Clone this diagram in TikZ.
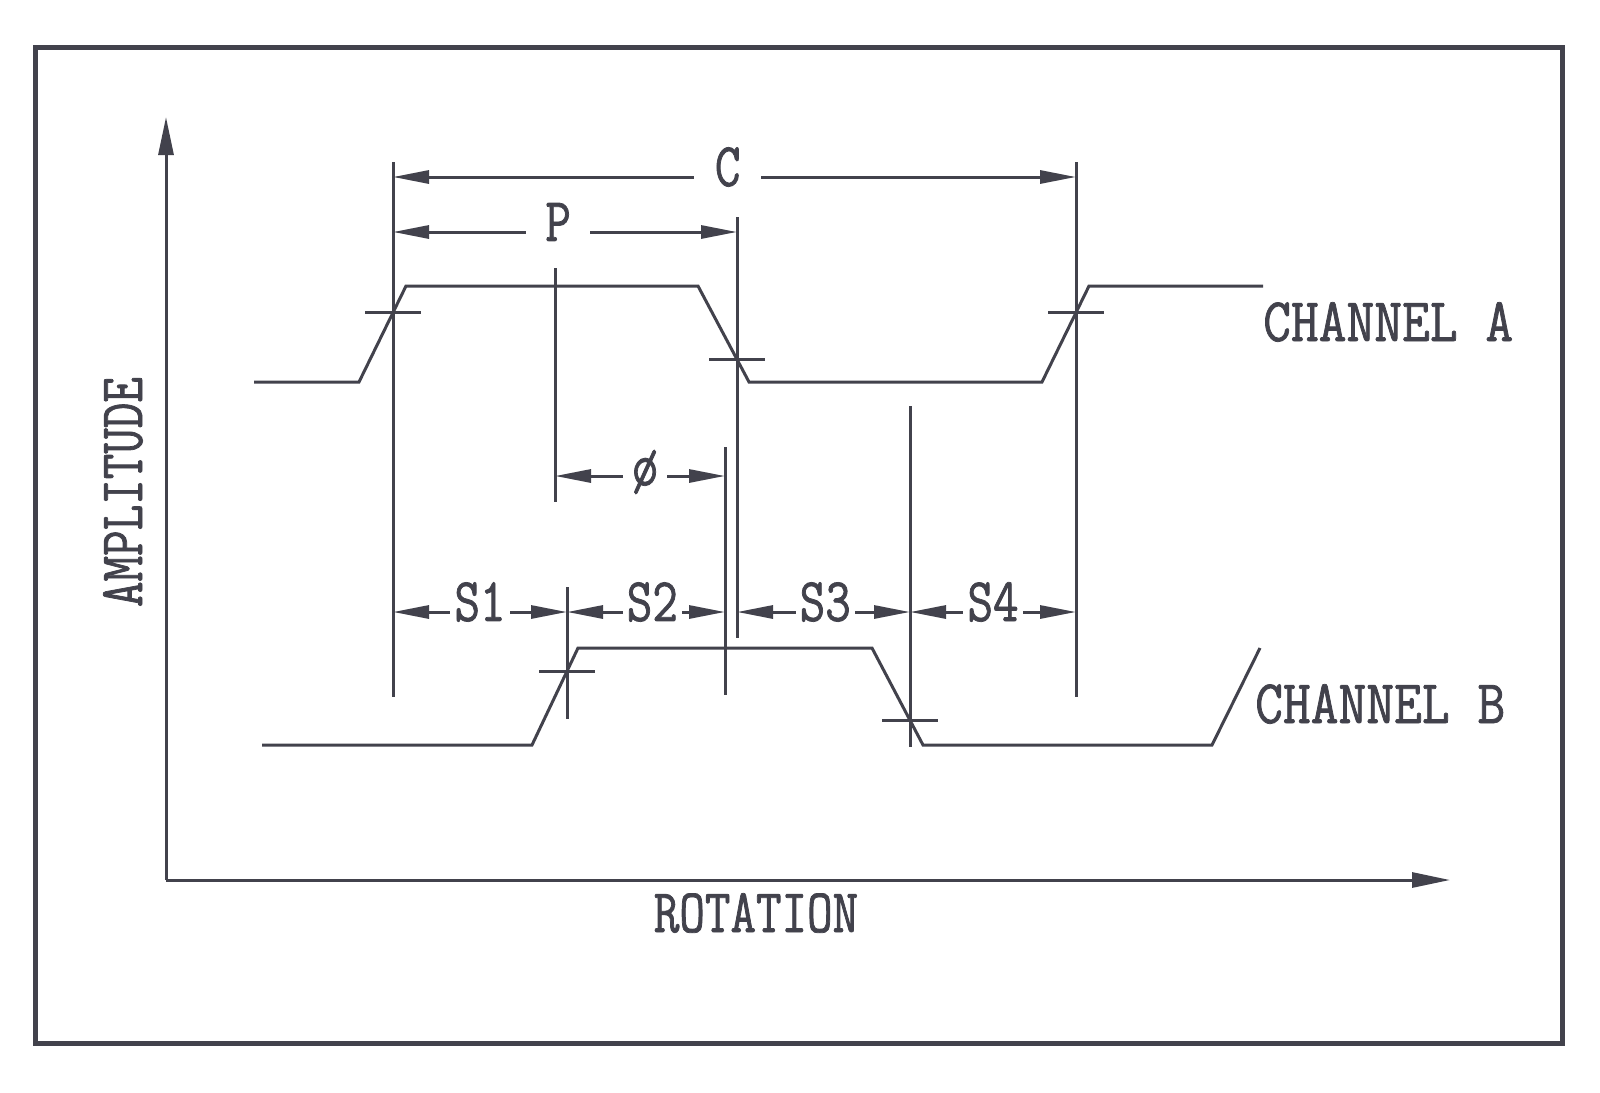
\documentclass[tikz,border=0pt]{standalone}
\usepackage{fontspec}
\setmonofont{Latin Modern Mono}[FakeStretch=0.8, FakeBold=1.2]
\newfontfamily\chanfont{Latin Modern Mono}[FakeStretch=0.87, FakeBold=1.2]
\usepackage{xcolor}
\usepackage{tikz}
\usetikzlibrary{arrows.meta,positioning,calc}

\definecolor{ink}{RGB}{66,66,76}

\begin{document}
\begin{tikzpicture}[
    x=1pt, y=-1pt,
    >={Triangle[length=36pt,width=13pt]},
    drawline/.style={draw=ink, line width=3pt},
    frame/.style={draw=ink, line width=5pt},
    axis/.style={drawline, -{Triangle[length=38pt,width=15pt]}},
    dim/.style={drawline, <->},
    lbl/.style={font=\fontsize{62}{62}\selectfont\ttfamily, text=ink, inner sep=0pt},
    chan/.style={lbl, font=\fontsize{62}{62}\selectfont\chanfont, anchor=west},
    dimlbl/.style={lbl, fill=white, inner xsep=#1, yshift=10pt},
    dimlbl/.default=4pt
]

\useasboundingbox (0,0) rectangle (1600,1092);
\fill[white] (0,0) rectangle (1600,1092);
\draw[frame] (35,47) rectangle (1562,1043);

% Axes
\coordinate (O) at (166,880);
\coordinate (ytop) at (166,117);
\coordinate (xend) at (1450,880);
\draw[axis] (O) -- (ytop);
\draw[axis] (O) -- (xend);
\node[lbl, rotate=90] (ampl) at (123,492) {AMPLITUDE};
\node[lbl] (rot) at (756,913) {ROTATION};

% Channels
\draw[drawline] (254,382) -- (359,382) -- (406,286) -- (698,286) -- (749,382)
    -- (1042,382) -- (1089,286) -- (1263,286);
\draw[drawline] (262,745) -- (532,745) -- (578,648) -- (872,648) -- (923,745)
    -- (1212,745) -- (1260,648);
\node[chan] (chA) at (1263,322) {CHANNEL A};
\node[chan] (chB) at (1255,704) {CHANNEL B};

% Crossing points and ticks
\coordinate (a1) at (393,312);
\coordinate (a2) at (737,359);
\coordinate (a3) at (1076,312);
\coordinate (b1) at (567,671);
\coordinate (b2) at (910,720);
\coordinate (ph1) at (555,476);
\coordinate (ph2) at (725,476);
\foreach \p in {a1,a2,a3,b1,b2}
    \draw[drawline] ([xshift=-28pt]\p) -- ([xshift=28pt]\p);

% Extension lines
\foreach \x/\ya/\yb in {393/162/697, 737/217/638, 1076/162/697, 555/268/502,
    725/447/695, 567/587/719, 910/406/747}
    \draw[drawline] (\x,\ya) -- (\x,\yb);

% Dimension levels
\coordinate (cLev) at (0,177);
\coordinate (pLev) at (0,232);
\coordinate (sLev) at (0,612);

% Dimensions
\draw[dim] (a1 |- cLev) -- node[dimlbl=21pt, pos=.49] (labC) {C} (a3 |- cLev);
\draw[dim] (a1 |- pLev) -- node[dimlbl=19pt, pos=.48] (labP) {P} (a2 |- pLev);
\draw[dim] (ph1) -- node[dimlbl=9pt, pos=.53, yshift=-6pt] (labPhi) {\o} (ph2);
\draw[dim] (a1 |- sLev) -- node[dimlbl] (labS1) {S1} (b1 |- sLev);
\draw[dim] (b1 |- sLev) -- node[dimlbl, pos=.54] (labS2) {S2} (ph2 |- sLev);
\draw[dim] (a2 |- sLev) -- node[dimlbl, pos=.51] (labS3) {S3} (b2 |- sLev);
\draw[dim] (b2 |- sLev) -- node[dimlbl] (labS4) {S4} (a3 |- sLev);

\end{tikzpicture}
\end{document}
